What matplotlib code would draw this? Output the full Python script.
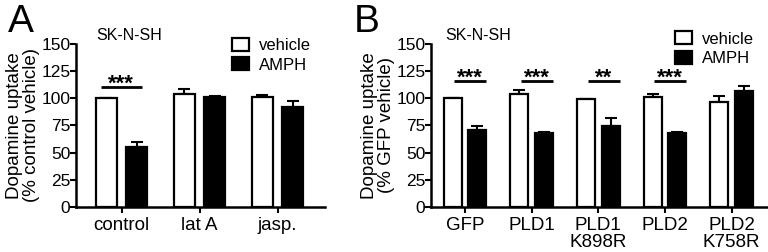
import matplotlib
matplotlib.use("Agg")
import matplotlib.pyplot as plt
import numpy as np

plt.rcParams['font.family'] = ['Liberation Sans', 'DejaVu Sans']

# Panel A data
catsA = ['control', 'lat A', 'jasp.']
vehA = [100, 104, 101]
vehA_err = [0, 4.5, 2]
amphA = [55, 101, 92]
amphA_err = [5, 0.5, 5]
sigA = ['***', '', '']

# Panel B data
catsB = ['GFP', 'PLD1', 'PLD1\nK898R', 'PLD2', 'PLD2\nK758R']
vehB = [100, 104, 99, 101, 96.5]
vehB_err = [0, 3, 0.3, 2.5, 5]
amphB = [70.5, 68, 74, 67.5, 106.5]
amphB_err = [4, 0.5, 8, 1, 5]
sigB = ['***', '***', '**', '***', '']

fig = plt.figure(figsize=(7.68, 2.52), dpi=100)
axA = fig.add_axes([0.099, 0.1786, 0.324, 0.6484])
axB = fig.add_axes([0.561, 0.1786, 0.4377, 0.6484])


def draw_panel(ax, cats, veh, veh_err, amph, amph_err, sig, off, w, sig_y, sig_span,
               ylabel, leg_anchor, sk_x):
    x = np.arange(len(cats))
    kw = dict(width=w, edgecolor='black', linewidth=1.6, zorder=2)
    ax.bar(x - off, veh, color='white', label='vehicle', **kw)
    ax.bar(x + off, amph, color='black', label='AMPH', **kw)
    ekw = dict(fmt='none', ecolor='black', elinewidth=1.5, capsize=4.5, capthick=1.5, zorder=1)
    ax.errorbar(x - off, veh, yerr=[np.zeros(len(veh)), veh_err], **ekw)
    ax.errorbar(x + off, amph, yerr=[np.zeros(len(amph)), amph_err], **ekw)
    for i, s in enumerate(sig):
        if s:
            x0, x1 = x[i] + sig_span[0], x[i] + sig_span[1]
            ax.plot([x0, x1], [sig_y, sig_y], color='black', lw=2, solid_capstyle='butt')
            ax.text((x0 + x1) / 2, sig_y - 2, s, ha='center', va='baseline', fontsize=16, fontweight='bold')
    ax.set_xticks(x)
    ax.set_xticklabels(cats, fontsize=13.5, linespacing=1.0)
    ax.set_ylim(0, 150)
    ax.set_yticks([0, 25, 50, 75, 100, 125, 150])
    ax.tick_params(axis='y', labelsize=12.5, width=1.5, length=4, pad=0)
    ax.tick_params(axis='x', width=1.5, length=4, pad=3)
    for sp in ['top', 'right']:
        ax.spines[sp].set_visible(False)
    for sp in ['left', 'bottom']:
        ax.spines[sp].set_linewidth(1.8)
    ax.set_ylabel(ylabel, fontsize=13.5, linespacing=1.0, labelpad=1)
    ax.legend(loc='upper right', bbox_to_anchor=leg_anchor, frameon=False, fontsize=12,
              handlelength=1.0, handleheight=0.8, handletextpad=0.6, labelspacing=0.25, borderaxespad=0)
    ax.text(sk_x, 1.052, 'SK-N-SH', transform=ax.transAxes, fontsize=11.5, va='center', ha='left')


draw_panel(axA, catsA, vehA, vehA_err, amphA, amphA_err, sigA, 0.196, 0.27, 110,
           (-0.265, 0.256), 'Dopamine uptake\n(% control vehicle)', (0.97, 1.075), 0.08)
axA.set_xlim(-0.586, 2.607)

draw_panel(axB, catsB, vehB, vehB_err, amphB, amphB_err, sigB, 0.185, 0.27, 115.5,
           (-0.16, 0.32), 'Dopamine uptake\n(% GFP vehicle)', (0.98, 1.115), 0.043)
axB.set_xlim(-0.51, 4.53)

fig.text(0.01, 0.985, 'A', fontsize=28, va='top', ha='left')
fig.text(0.46, 0.985, 'B', fontsize=28, va='top', ha='left')

fig.savefig('out.png', dpi=100)
